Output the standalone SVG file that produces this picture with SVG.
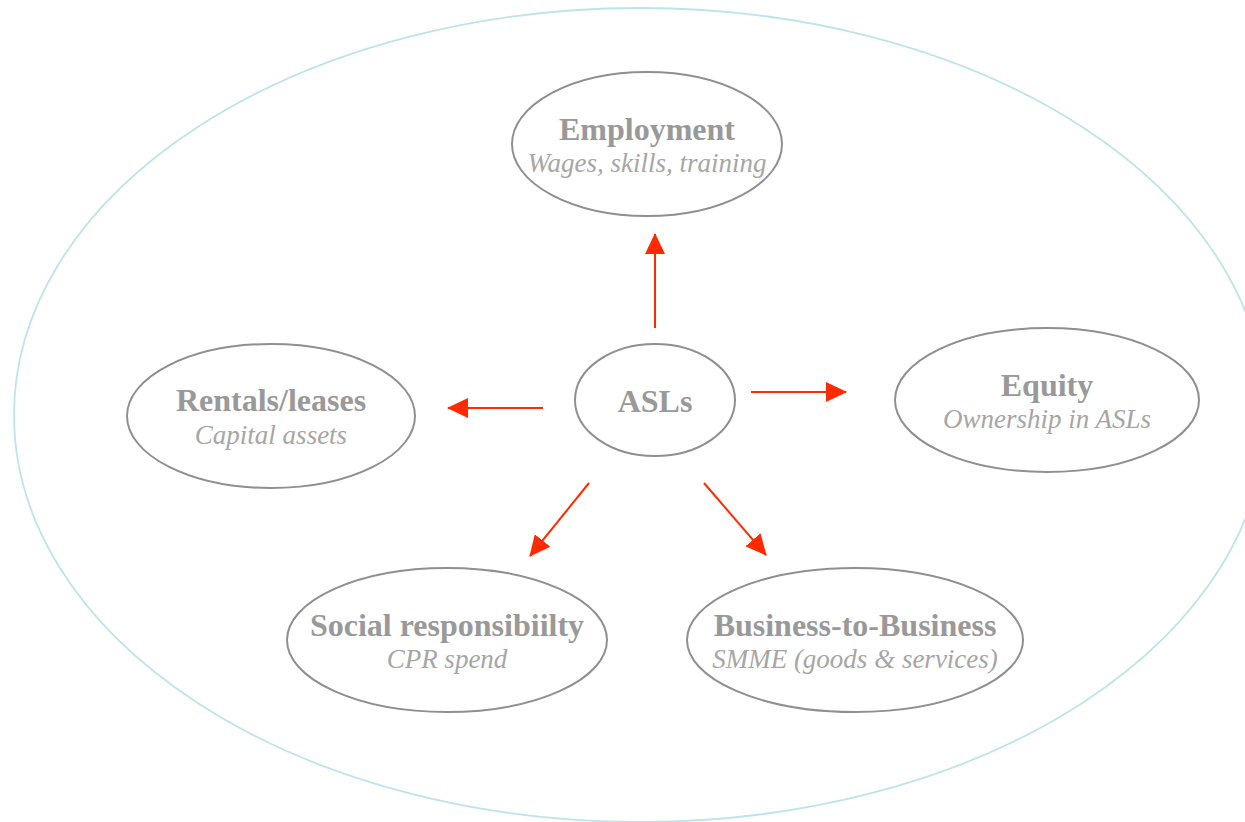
<svg xmlns="http://www.w3.org/2000/svg" width="1245" height="822" viewBox="0 0 1245 822">
<style>
.node{fill:#fff;stroke:#8f8f8f;stroke-width:2}
.t{font-family:"Liberation Serif",serif;font-weight:bold;font-size:32px;fill:#999;text-anchor:middle}
.s{font-family:"Liberation Serif",serif;font-style:italic;font-size:27px;fill:#a6a6a6;text-anchor:middle}
.c{stroke:#ff2a00;stroke-width:2;fill:none;marker-end:url(#ah)}
</style>
<defs>
<marker id="ah" markerUnits="userSpaceOnUse" markerWidth="22" markerHeight="22" viewBox="0 0 22 22" refX="20" refY="11" orient="auto">
<path d="M0,1 L21,11 L0,21 Z" fill="#ff2a00"/>
</marker>
</defs>
<rect width="1245" height="822" fill="#fff"/>
<ellipse id="outer" cx="640" cy="415" rx="626" ry="407" fill="none" stroke="#bfe3ea" stroke-width="1.8"/>
<g id="connectors">
<line class="c" x1="655" y1="328" x2="655" y2="234"/>
<line class="c" x1="543" y1="408" x2="448" y2="408"/>
<line class="c" x1="751" y1="392" x2="846" y2="392"/>
<line class="c" x1="589" y1="483" x2="530" y2="556"/>
<line class="c" x1="704" y1="483" x2="766" y2="555"/>
</g>
<g id="employment">
<ellipse class="node" cx="647" cy="144" rx="135" ry="72"/>
<text class="t" x="647" y="140">Employment</text>
<text class="s" x="647" y="172">Wages, skills, training</text>
</g>
<g id="asls">
<ellipse class="node" cx="655" cy="400" rx="80" ry="56"/>
<text class="t" x="655" y="412">ASLs</text>
</g>
<g id="rentals">
<ellipse class="node" cx="271" cy="416" rx="144" ry="72"/>
<text class="t" x="271" y="411">Rentals/leases</text>
<text class="s" x="271" y="444">Capital assets</text>
</g>
<g id="equity">
<ellipse class="node" cx="1047" cy="400" rx="152" ry="72"/>
<text class="t" x="1047" y="396">Equity</text>
<text class="s" x="1047" y="428">Ownership in ASLs</text>
</g>
<g id="social">
<ellipse class="node" cx="447" cy="640" rx="160" ry="72"/>
<text class="t" x="447" y="636">Social responsibiilty</text>
<text class="s" x="447" y="668">CPR spend</text>
</g>
<g id="b2b">
<ellipse class="node" cx="855" cy="640" rx="168" ry="72"/>
<text class="t" x="855" y="636">Business-to-Business</text>
<text class="s" x="855" y="668">SMME (goods &amp; services)</text>
</g>
</svg>
